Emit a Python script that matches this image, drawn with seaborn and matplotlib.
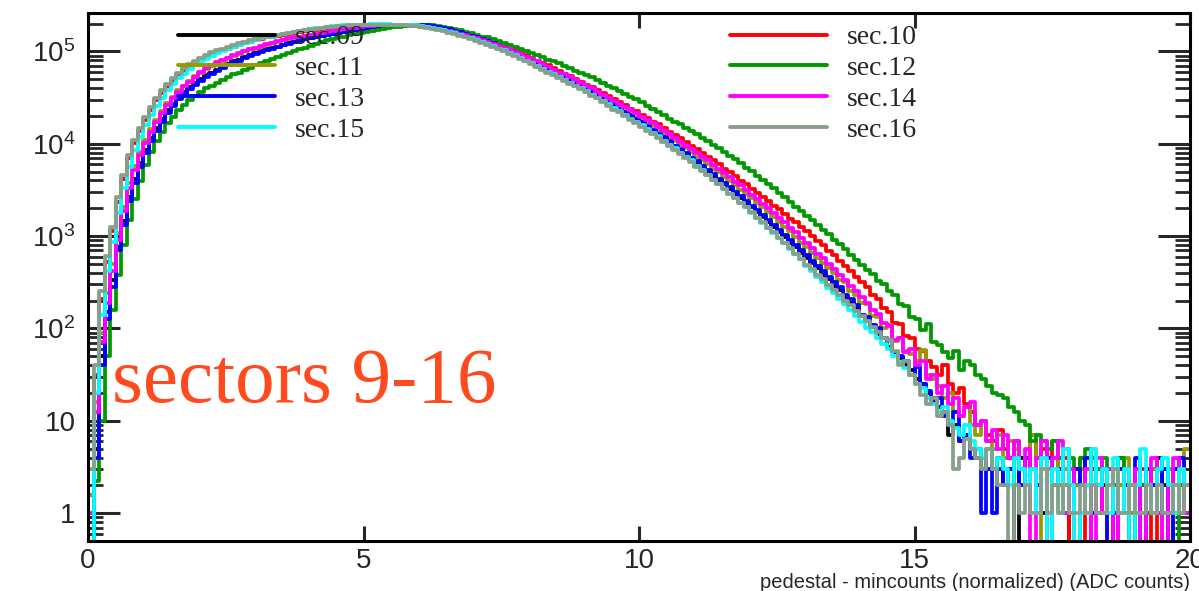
import numpy as np
import pandas as pd
import matplotlib
matplotlib.use("Agg")
import matplotlib.pyplot as plt
from matplotlib.lines import Line2D
from matplotlib.ticker import LogLocator, FixedLocator, FuncFormatter, NullLocator
import seaborn as sns

# ---------------- data (log10(counts) x 100 per 0.1-wide bin, 0..20) ----------------
x_min, x_max, bin_w = 0.0, 20.0, 0.1

sec09 = [-200,70,170,218,252,288,316,342,362,379,
         393,406,417,427,436,443,450,456,461,466,
         470,474,477,480,483,486,489,491,494,496,
         498,500,502,504,505,507,509,510,512,513,
         514,516,517,518,519,520,521,522,523,524,
         525,526,526,527,527,528,528,528,528,528,
         527,527,526,525,524,523,521,520,518,516,
         514,512,510,508,505,503,500,498,495,492,
         489,486,483,480,477,474,471,468,465,462,
         459,455,452,448,445,441,437,433,430,426,
         422,418,414,410,405,401,397,392,388,384,
         379,375,370,365,361,356,351,346,341,336,
         331,326,321,315,310,304,299,293,288,282,
         276,271,265,258,254,246,242,234,228,222,
         214,208,202,194,190,180,175,168,160,155,
         145,140,130,125,115,110,85,95,78,85,
         70,60,48,70,48,60,30,48,-200,60,
         30,48,30,0,48,30,60,30,-200,48,
         30,30,48,0,30,48,30,60,30,-200,
         48,30,30,48,60,30,0,48,30,30]

sec10 = [20,150,232,272,305,337,362,384,401,414,
         426,437,447,455,463,469,475,480,484,488,
         491,494,497,499,501,503,505,507,509,510,
         512,513,515,516,517,518,519,520,521,522,
         523,523,524,525,525,526,526,527,527,527,
         528,528,528,528,528,528,528,527,527,527,
         526,526,525,524,523,522,521,520,518,517,
         515,513,511,509,507,505,503,501,498,496,
         493,490,487,485,482,479,476,473,470,467,
         464,461,458,455,452,448,445,442,438,435,
         431,428,424,421,417,413,409,406,402,398,
         394,390,386,382,378,373,369,365,360,356,
         351,347,342,338,333,329,324,319,315,310,
         305,300,295,290,284,279,273,268,262,256,
         250,245,236,232,222,218,206,205,192,190,
         178,176,165,158,150,160,140,130,135,118,
         110,95,100,85,78,90,70,60,78,48,
         60,85,60,70,48,78,30,60,-200,30,
         60,-200,48,30,0,48,-200,30,48,0,
         30,48,0,-200,30,-200,48,0,30,0]

sec11 = [20,120,195,238,270,303,332,357,376,391,
         404,416,426,435,444,451,458,463,468,473,
         477,481,484,487,490,493,495,497,500,502,
         503,505,507,509,510,512,513,514,516,517,
         518,519,520,521,522,523,524,524,525,526,
         526,527,527,528,528,528,528,528,527,527,
         526,526,525,524,523,521,520,518,517,515,
         513,511,509,507,505,503,501,498,496,493,
         491,488,485,482,479,476,473,470,467,464,
         461,458,455,451,448,444,441,437,434,430,
         427,423,419,415,411,407,403,399,395,391,
         386,382,378,373,369,364,360,355,350,346,
         341,336,331,326,321,315,310,305,299,293,
         288,282,276,271,265,260,252,250,240,236,
         228,226,214,212,200,204,186,190,176,172,
         165,177,150,145,138,125,130,110,105,115,
         95,85,100,78,70,85,60,78,70,48,
         60,85,60,-200,48,60,30,48,0,30,
         48,30,70,30,48,-200,48,30,60,0,
         48,0,30,48,30,-200,48,30,48,70]

sec12 = [-200,35,100,170,220,258,290,317,340,360,
         377,391,403,413,422,429,436,442,447,452,
         456,460,463,466,469,472,475,477,480,482,
         485,487,489,492,494,496,498,500,502,504,
         506,508,510,512,513,515,516,518,519,520,
         521,522,523,524,525,526,526,527,527,528,
         528,528,528,527,526,525,524,523,521,520,
         518,516,515,513,511,509,507,505,503,500,
         498,496,494,491,489,487,484,482,479,477,
         474,472,469,466,463,460,457,454,451,448,
         445,441,438,434,431,427,424,421,417,414,
         410,406,403,399,395,391,387,383,379,374,
         370,365,361,356,352,347,342,337,332,327,
         322,317,312,307,302,296,291,286,280,274,
         269,263,259,251,248,240,236,226,224,212,
         210,198,205,185,182,175,168,176,155,165,
         160,150,145,138,130,128,125,115,110,100,
         95,78,85,78,70,78,60,70,60,48,
         60,70,60,48,60,48,30,60,48,30,
         48,30,0,30,48,0,30,-200,30,0]

sec13 = [-200,60,160,210,245,285,312,338,358,375,
         390,403,414,424,433,441,448,454,459,464,
         468,472,476,479,482,485,488,490,493,495,
         497,499,501,503,505,507,508,510,511,513,
         514,515,517,518,519,520,521,522,523,524,
         525,526,527,528,528,529,529,529,529,529,
         528,528,527,526,525,524,522,521,519,517,
         515,513,511,509,506,504,501,499,496,493,
         490,487,484,481,478,475,472,469,466,463,
         460,456,453,449,446,442,438,434,431,427,
         423,419,415,411,407,403,398,394,390,385,
         381,376,372,367,362,357,353,348,343,338,
         333,328,323,317,312,307,301,296,290,285,
         279,273,268,262,256,250,245,236,232,225,
         215,212,204,200,190,187,175,170,165,150,
         158,140,132,120,125,105,95,110,78,85,
         60,70,0,48,0,48,30,48,60,30,
         60,48,30,60,60,30,48,0,30,48,
         30,60,0,30,48,-200,0,48,30,30,
         60,-200,48,30,0,48,-200,48,60,30]

sec14 = [0,110,185,228,262,296,327,352,372,388,
         401,413,424,433,442,450,456,462,467,472,
         478,482,485,488,491,493,496,498,500,502,
         504,506,508,509,511,512,514,515,516,517,
         518,519,520,521,522,523,524,525,525,526,
         527,527,528,528,528,528,528,528,528,527,
         527,526,525,524,523,522,521,519,518,516,
         514,512,510,508,506,504,502,499,497,494,
         492,489,486,483,480,477,475,472,469,466,
         463,460,456,453,450,446,443,440,436,433,
         429,426,422,418,414,410,406,402,398,394,
         390,386,382,377,373,368,364,359,355,350,
         345,340,335,330,325,320,315,309,304,298,
         293,287,281,276,270,264,258,252,246,240,
         234,228,220,216,206,203,188,190,174,178,
         160,165,145,150,130,138,118,125,105,115,
         120,95,100,78,90,70,85,60,78,48,
         70,-200,60,78,-200,60,78,0,48,-200,
         0,48,-200,60,0,48,-200,0,48,30,
         48,-200,30,60,0,-200,30,60,48,0]

sec15 = [-200,130,215,262,294,325,352,375,393,407,
         420,431,441,450,458,465,471,476,481,485,
         489,492,495,498,500,503,505,507,509,510,
         512,514,515,516,518,519,520,521,522,523,
         524,525,525,526,527,527,528,528,529,529,
         529,530,530,530,530,529,529,529,528,528,
         527,526,525,524,523,521,520,518,516,514,
         512,510,508,506,503,501,498,496,493,490,
         487,484,481,478,475,472,469,466,463,460,
         457,453,450,446,443,439,435,431,427,424,
         420,416,412,408,403,399,395,390,386,382,
         376,371,366,361,356,351,346,341,336,331,
         325,320,314,309,303,298,292,286,281,275,
         268,262,256,250,244,238,232,226,220,214,
         207,201,196,190,183,178,170,164,157,150,
         140,135,125,118,110,115,100,92,85,95,
         78,70,60,70,48,60,48,30,60,48,
         30,48,0,60,-200,48,0,70,30,-200,
         0,30,70,30,48,0,60,0,48,-200,
         30,70,30,0,48,60,30,0,48,30]

sec16 = [48,160,240,278,310,342,366,388,404,417,
         429,440,450,458,465,471,477,482,486,490,
         493,496,499,501,503,505,507,509,510,512,
         513,515,516,517,518,519,520,521,522,523,
         524,524,525,526,526,527,527,528,528,528,
         529,529,529,529,529,528,528,528,527,527,
         526,525,524,523,522,520,519,517,515,513,
         511,509,507,505,502,500,497,495,492,489,
         486,483,480,477,474,471,468,465,462,459,
         456,452,449,445,441,437,434,430,426,422,
         418,414,410,406,402,397,393,389,384,380,
         375,370,366,361,356,351,346,341,336,331,
         326,320,315,309,304,298,292,287,281,275,
         269,264,258,253,247,242,236,230,225,219,
         213,208,202,196,190,188,176,160,165,150,
         140,128,118,125,105,110,95,48,60,80,
         70,60,48,70,48,30,30,-200,30,0,
         30,0,0,48,0,30,0,30,0,0,
         30,0,30,0,0,30,48,0,0,30,
         0,0,30,0,30,0,0,30,0,30]

labels = ["sec.09", "sec.10", "sec.11", "sec.12", "sec.13", "sec.14", "sec.15", "sec.16"]
series = [sec09, sec10, sec11, sec12, sec13, sec14, sec15, sec16]
colors = ["#000000", "#ff0000", "#999900", "#009900", "#0000ff", "#ff00ff", "#00ffff", "#87a08b"]

# ---------------- figure ----------------
sns.set_style("ticks")
plt.rcParams["font.family"] = ["Liberation Sans", "DejaVu Sans"]
plt.rcParams["mathtext.fontset"] = "custom"
plt.rcParams["mathtext.rm"] = "Liberation Sans"
plt.rcParams["mathtext.it"] = "Liberation Sans:italic"

W, H = 1199, 591
fig = plt.figure(figsize=(W / 100, H / 100), dpi=100)
ax = fig.add_axes([88 / W, 50 / H, 1102 / W, 528 / H])

edges = np.linspace(x_min, x_max, int(round((x_max - x_min) / bin_w)) + 1)
centers = 0.5 * (edges[:-1] + edges[1:])

for lab, vals, col in zip(labels, series, colors):
    assert len(vals) == len(centers), lab
    df = pd.DataFrame({"x": centers,
                       "w": 10.0 ** (np.asarray(vals, dtype=float) / 100.0)})
    sns.histplot(data=df, x="x", weights="w", bins=list(edges), element="step",
                 fill=False, color=col, linewidth=2.7, ax=ax)

ax.set_yscale("log")
ax.set_xlim(0, 20)
ax.set_ylim(0.5, 2.6e5)
ax.set_xlabel("")
ax.set_ylabel("")

for sp in ax.spines.values():
    sp.set_linewidth(2.2)
    sp.set_color("black")
    sp.set_visible(True)

ax.xaxis.set_major_locator(FixedLocator([0, 5, 10, 15, 20]))
ax.xaxis.set_minor_locator(NullLocator())
ax.xaxis.set_major_formatter(FuncFormatter(lambda v, p: f"{v:g}"))
ax.yaxis.set_major_locator(LogLocator(base=10, numticks=12))
ax.yaxis.set_minor_locator(LogLocator(base=10, subs=np.arange(2, 10), numticks=30))

def yfmt(v, p):
    e = int(round(np.log10(v)))
    if e == 0:
        return "1"
    if e == 1:
        return "10"
    return r"$\mathregular{10^{%d}}$" % e

ax.yaxis.set_major_formatter(FuncFormatter(yfmt))
ax.tick_params(axis="y", which="major", direction="in", length=23, width=2.2,
               left=True, right=True, labelsize=20, pad=9)
ax.tick_params(axis="y", which="minor", direction="in", length=11, width=2.0,
               left=True, right=True)
ax.tick_params(axis="x", which="major", direction="in", length=11, width=2.2,
               bottom=True, top=True, labelsize=20, pad=5)

handles = [Line2D([], [], color=c, lw=2.8) for c in colors]
leg_kw = dict(frameon=False, handlelength=3.5, handletextpad=0.7,
              labelspacing=0.19, borderpad=0, borderaxespad=0, loc="upper left",
              prop={"family": "Liberation Serif", "size": 20})
idx1 = [0, 2, 4, 6]
idx2 = [1, 3, 5, 7]
leg1 = ax.legend([handles[i] for i in idx1], [labels[i] for i in idx1],
                 bbox_to_anchor=(178 / W, 1 - 25 / H), bbox_transform=fig.transFigure, **leg_kw)
ax.add_artist(leg1)
leg2 = ax.legend([handles[i] for i in idx2], [labels[i] for i in idx2],
                 bbox_to_anchor=(730 / W, 1 - 25 / H), bbox_transform=fig.transFigure, **leg_kw)

fig.text(112 / W, 1 - 402 / H, "sectors 9-16", fontsize=57, color="#ff4a1f",
         family="Liberation Serif", ha="left", va="baseline")
fig.text(1190 / W, 1 - 582 / H, "pedestal - mincounts (normalized) (ADC counts)",
         fontsize=14.5, ha="right", va="center")

fig.savefig("out.png", dpi=100)
